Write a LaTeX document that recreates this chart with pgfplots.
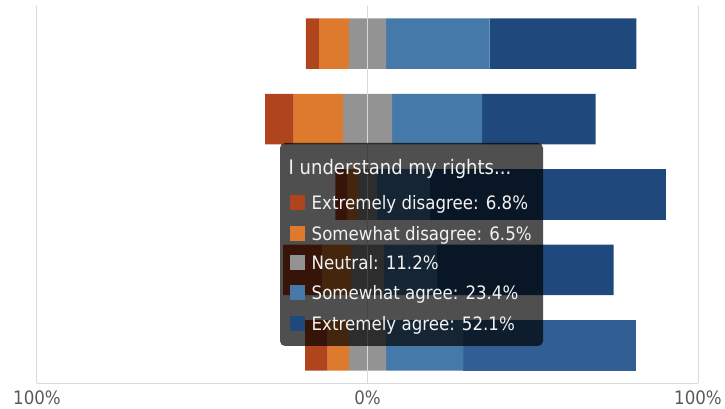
\documentclass[border=0pt]{standalone}
\usepackage{pgfplots}
\pgfplotsset{compat=1.18}
\usepackage{pgfplotstable}
\usepackage{fontspec}
\usepackage{graphicx}
\setmainfont{DejaVu Sans}
\definecolor{cED}{HTML}{B0451D}
\definecolor{cSD}{HTML}{DD7A2D}
\definecolor{cN}{HTML}{939393}
\definecolor{cSA}{HTML}{4479A9}
\definecolor{cEA}{HTML}{1F497D}
\definecolor{cEAh}{HTML}{305E95}
\definecolor{gridc}{HTML}{D9D9D9}
\definecolor{tickc}{HTML}{595959}
\definecolor{tipt}{HTML}{F2F2F2}

\pgfplotstableread{
pos offset ED SD N SA EA EAh
0 -18.65 3.9 9.1 11.3 31.3 44.4 0
1 -30.95 8.6 14.9 14.9 27.2 34.4 0
2 -9.7 3.5 3.3 5.8 16.0 71.4 0
3 -25.55 11.9 8.6 10.1 16.0 53.4 0
4 -18.9 6.8 6.5 11.2 23.4 0 52.1
}\datatable

\newcommand\tipfont{\fontsize{18.5}{18.5}\selectfont}
\newcommand\titfont{\fontsize{20}{20}\selectfont}
\newcommand\sx[1]{\scalebox{0.9}[1]{#1}}

\begin{document}
\begin{tikzpicture}
\useasboundingbox (-37pt,-26pt) rectangle (688pt,383pt);
\begin{axis}[
  at={(0pt,0pt)}, anchor=south west,
  scale only axis, width=661pt, height=377pt,
  xbar stacked, stack negative=on previous, bar width=0.67,
  xmin=-100, xmax=100, ymin=-0.5, ymax=4.5, y dir=reverse,
  axis x line*=bottom, axis y line=none,
  axis on top,
  x axis line style={draw=gridc, line width=1pt, -},
  xmajorgrids, major grid style={draw=gridc, line width=1pt},
  major tick length=0pt,
  xtick={-100,0,100},
  xticklabels={\sx{100\%},\sx{0\%},\sx{100\%}},
  xticklabel style={font=\tipfont, text=tickc, anchor=north, yshift=-4pt},
  ytick=\empty,
]
\addplot[draw=none, fill=none] table[x=offset,y=pos]{\datatable};
\addplot[draw=none, fill=cED] table[x=ED,y=pos]{\datatable};
\addplot[draw=none, fill=cSD] table[x=SD,y=pos]{\datatable};
\addplot[draw=none, fill=cN] table[x=N,y=pos]{\datatable};
\addplot[draw=none, fill=cSA] table[x=SA,y=pos]{\datatable};
\addplot[draw=none, fill=cEA] table[x=EA,y=pos]{\datatable};
\addplot[draw=none, fill=cEAh] table[x=EAh,y=pos]{\datatable};
\end{axis}
% tooltip
\fill[black, opacity=0.69, rounded corners=5pt] (243pt,37pt) rectangle (506pt,240pt);
\node[anchor=base west, inner sep=0pt, text=tipt] at (251.5pt,208pt) {\titfont\sx{I understand my rights...}};
\foreach \c/\t/\b in {cED/{Extremely disagree: 6.8\%}/173.7, cSD/{Somewhat disagree: 6.5\%}/142.7, cN/{Neutral: 11.2\%}/113, cSA/{Somewhat agree: 23.4\%}/83, cEA/{Extremely agree: 52.1\%}/52.3}{
  \fill[\c] (252.5pt,\b pt-0.5pt) rectangle (267.5pt,\b pt+14.5pt);
  \node[anchor=base west, inner sep=0pt, text=tipt] at (274.5pt,\b pt) {\tipfont\sx{\t}};
}
\end{tikzpicture}
\end{document}
